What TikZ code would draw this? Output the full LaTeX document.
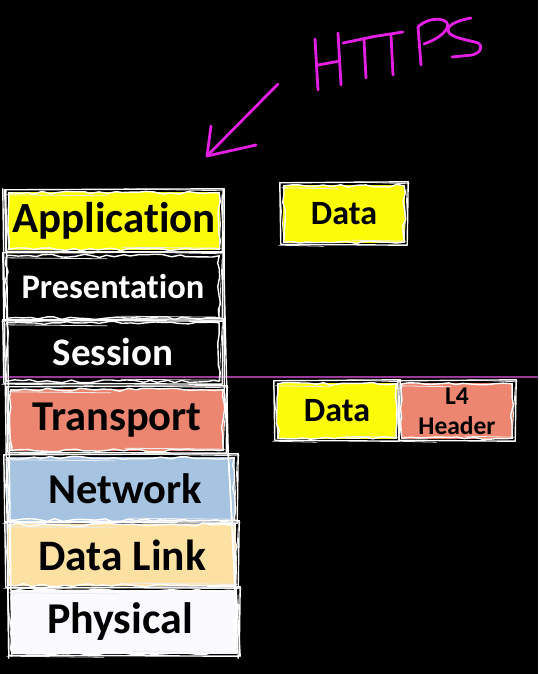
\documentclass[tikz,border=0pt]{standalone}
\usepackage{fontspec}
\setmainfont{Carlito}[Ligatures=NoCommon]
\usetikzlibrary{decorations.pathmorphing}
\definecolor{hl}{HTML}{FCFC08}
\definecolor{tr}{HTML}{EC8670}
\definecolor{nw}{HTML}{A6C3E1}
\definecolor{dl}{HTML}{FDE1A2}
\definecolor{ph}{HTML}{FAFAFF}
\definecolor{pen}{HTML}{E41FE4}
\definecolor{purp}{HTML}{9A3A9A}
\tikzset{
  layer/.style 2 args={draw=none, inner sep=0pt, minimum width=#1, minimum height=#2},
  fs/.style={font=\bfseries\fontsize{#1}{#1}\selectfont},
  sk/.style={draw=white, line width=1.4pt, line join=round, line cap=round},
  skt/.style={draw=white!85!gray, line width=0.8pt, line cap=round},
  skr/.style={sk, decorate, decoration={random steps, segment length=8pt, amplitude=1.6pt}},
  hand/.style={draw=pen, line width=2.8pt, line cap=round, line join=round},
}
\begin{document}
\pgfmathsetseed{11}
\begin{tikzpicture}[x=1pt,y=-1pt]
\fill[black] (0,0) rectangle (538,674);
\useasboundingbox (0,0) rectangle (538,674);

% layers
\node[layer={212}{58}, fill=hl, text=black, fs=43] (app) at (114,221) {Application};
\node[layer={214}{64}, fill=black, text=white, fs=34.5] (pres) at (113,287) {Presentation};
\node[layer={214}{60}, fill=black, text=white, fs=39] (sess) at (113,352) {Session};
\node[layer={214}{62}, fill=tr, text=black, fs=42.5] (trans) at (117,420) {Transport};
\node[layer={228}{64}, fill=nw, text=black, fs=42.5] (net) at (121,489) {\hspace*{8pt}Network};
\node[layer={228}{62}, fill=dl, text=black, fs=43.5] (dl) at (122,555) {Data Link};
\node[layer={226}{64}, fill=ph, text=black, fs=44] (phys) at (124,622) {Physical\hspace*{8pt}};

% packets
\node[layer={122}{58}, fill=hl, text=black, fs=34] (d1) at (344,214) {Data};
\node[layer={120}{56}, fill=hl, text=black, fs=34] (d2) at (337,411) {Data};
\node[layer={112}{56}, fill=tr, text=black, align=center, font=\bfseries\fontsize{25.5}{30}\selectfont] (l4) at (457,411) {L4\\Header};

% purple guide line
\coordinate (gl) at (0,377);
\coordinate (gr) at (538,377);
\draw[purp, line width=1.3pt] (gl) -- (gr);

% sketchy outlines
\foreach \n in {app,pres,sess,trans,net,dl,phys,d1,d2,l4}{
  \draw[sk] ([shift={(-3,-2)}]\n.north west) -- ([shift={(3,-3)}]\n.north east) -- ([shift={(2,2)}]\n.south east) -- ([shift={(-2,1)}]\n.south west) -- cycle;
  \draw[skr] ([shift={(1,1)}]\n.north west) rectangle ([shift={(-1,-1)}]\n.south east);
  \draw[skt] ([shift={(-1,3)}]\n.north west) -- ([shift={(-6,4)}]\n.north) ;
  \draw[skt] ([shift={(10,-3)}]\n.north) -- ([shift={(4,-1)}]\n.north east) ;
  \draw[skt] ([shift={(8,-3)}]\n.south) -- ([shift={(1,-2)}]\n.south east);
  \draw[skt] ([shift={(-4,2)}]\n.south west) -- ([shift={(-20,3)}]\n.south);
  \draw[skt] ([shift={(2,4)}]\n.north east) -- ([shift={(-1,-4)}]\n.south east);
  \draw[skt] ([shift={(-3,5)}]\n.north west) -- ([shift={(1,-3)}]\n.south west);
}
% long column edges
\draw[sk] ([shift={(-5,-3)}]app.north west) -- ([shift={(-2,4)}]phys.south west);
\draw[sk] ([shift={(-2,-2)}]app.north west) -- ([shift={(1,2)}]phys.south west);
\draw[sk] ([shift={(4,-3)}]app.north east) -- ([shift={(0,0)}]trans.north east) -- ([shift={(3,2)}]phys.south east);
\draw[sk] ([shift={(2,3)}]app.north east) -- ([shift={(4,0)}]trans.south east) -- ([shift={(1,4)}]phys.south east);

% HTTPS handwriting
\draw[hand] (315,39) -- (318,90);
\draw[hand] (338,33) -- (341,85);
\draw[hand] (318,65) -- (340,61);
\draw[hand] (343,43) -- (372,37);
\draw[hand] (364,40) -- (366,78);
\draw[hand] (371,37) -- (403,32);
\draw[hand] (391,35) -- (393,75);
\draw[hand] (418,27) -- (421,65);
\draw[hand] (418,27) .. controls (430,15) and (452,18) .. (447,28) .. controls (443,36) and (432,41) .. (424,44);
\draw[hand] (471,18) .. controls (460,20) and (448,24) .. (448,30) .. controls (448,38) and (470,40) .. (478,43) .. controls (484,47) and (480,53) .. (472,55) -- (452,57);

% arrow
\coordinate (atail) at (278,84);
\coordinate (atip) at (207,156);
\draw[hand] (atail) -- (atip);
\draw[hand] (211,126) -- (atip) -- (256,145);
\end{tikzpicture}
\end{document}
